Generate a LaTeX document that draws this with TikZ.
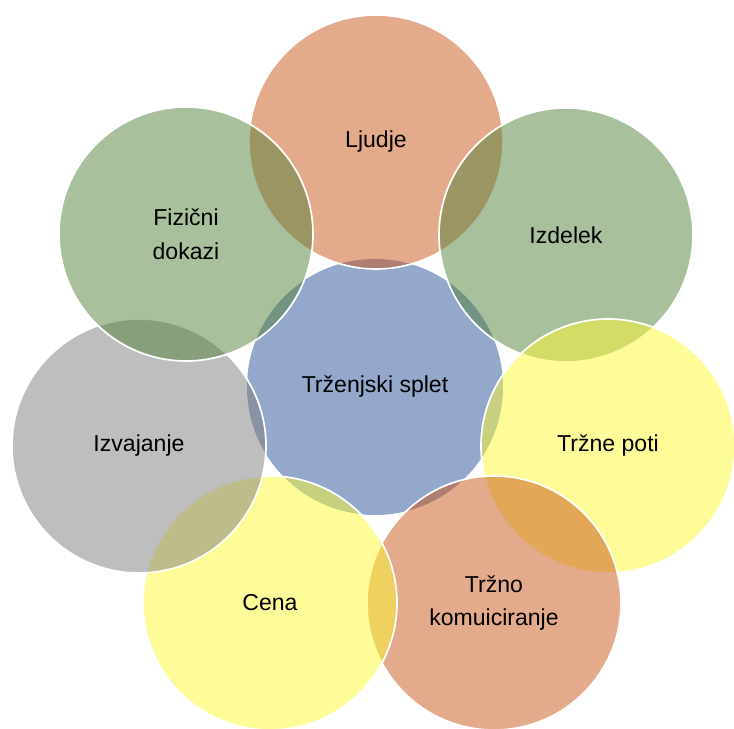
\documentclass[tikz,border=0pt]{standalone}
\usepackage{fontspec}
\setmainfont{Liberation Sans}
\usetikzlibrary{positioning}
\definecolor{coreblue}{RGB}{148, 168, 203}
\definecolor{salmonmix}{RGB}{199, 85, 25}
\definecolor{greenmix}{RGB}{83, 129, 59}
\definecolor{yellowmix}{RGB}{251, 249, 51}
\definecolor{graymix}{RGB}{125, 125, 125}

\begin{document}
\begin{tikzpicture}[
    core/.style={circle, fill=coreblue, minimum size=6.4cm, inner sep=0pt, font=\fontsize{16.4}{24}\selectfont},
    element/.style={circle, draw=white, line width=1.2pt, minimum size=6.35cm, inner sep=0pt, fill opacity=0.5, text opacity=1, align=center, font=\fontsize{16.4}{24}\selectfont}
]
\useasboundingbox (-9.375,-8.55) rectangle (8.975,9.675);

% Central circle
\node[core] (mix) at (0,0) {Trženjski splet};

% Surrounding elements, clockwise from the top
\node[element, fill=salmonmix] (ljudje) at (0.025,6.125) {Ljudje};
\node[element, fill=greenmix] (izdelek) at (4.775,3.8) {Izdelek};
\node[element, fill=yellowmix] (poti) at (5.825,-1.475) {Tržne poti};
\node[element, fill=salmonmix] (komunikacija) at (2.975,-5.4) {Tržno\\komuiciranje};
\node[element, fill=yellowmix] (cena) at (-2.625,-5.4) {Cena};
\node[element, fill=graymix] (izvajanje) at (-5.9,-1.475) {Izvajanje};
\node[element, fill=greenmix] (dokazi) at (-4.725,3.825) {Fizični\\dokazi};

\end{tikzpicture}
\end{document}
